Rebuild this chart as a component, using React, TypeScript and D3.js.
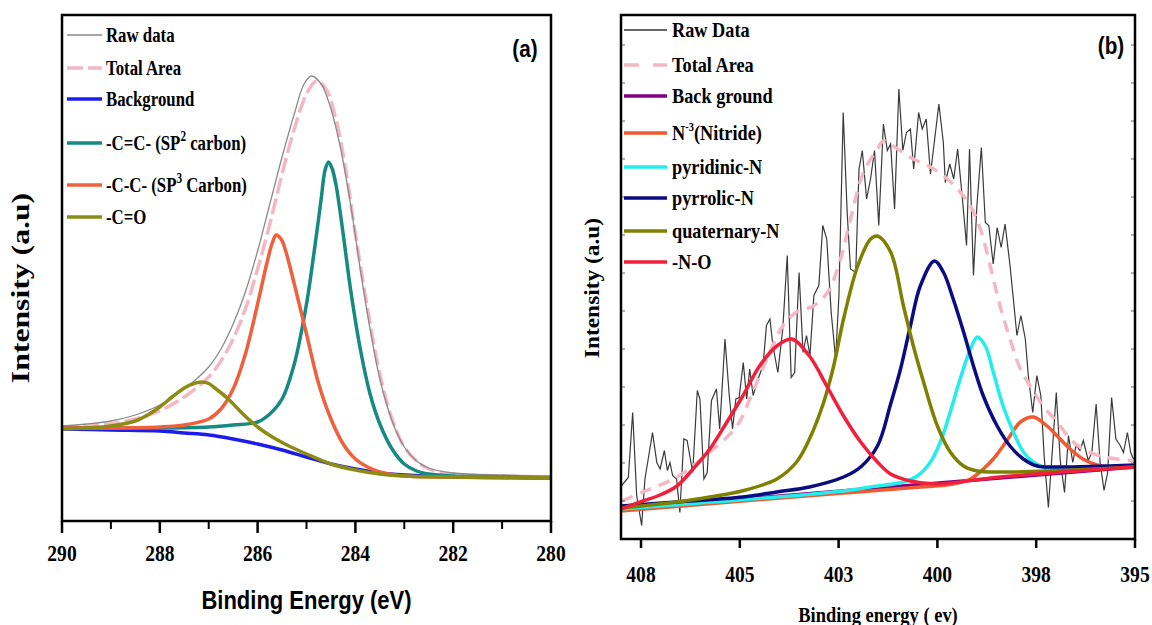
import React from 'react';
import * as d3 from 'd3';

type Pt = [number, number];

// ---------- panel (a): C 1s ----------
const A_TICKS = [290, 288, 286, 284, 282, 280];
const A_MINOR = [289, 287, 285, 283, 281];

const A_RAW: Pt[] = [[290,19.0],[289.5,19.4],[289,20.0],[288.5,21.2],[288,23.2],[287.5,26.4],[287,30.8],[286.75,34.4],[286.5,39.4],[286.25,45.8],[286,54.0],[285.75,63.4],[285.5,72.8],[285.25,81.4],[285.05,87.4],[284.9,89.0],[284.7,87.4],[284.5,82.4],[284.3,74.4],[284.1,63.4],[283.9,50.4],[283.7,38.4],[283.5,28.4],[283.25,20.0],[283,14.8],[282.75,12.0],[282.5,10.6],[282,9.6],[281,9.2],[280,9.0]];
const A_TOTAL: Pt[] = [[290,18.8],[289.5,19.0],[289,19.4],[288.5,20.4],[288,22.0],[287.5,24.8],[287,28.8],[286.75,32.0],[286.5,36.4],[286.25,42.4],[286,50.4],[285.75,59.4],[285.5,69.4],[285.25,78.4],[285,85.4],[284.8,88.0],[284.6,86.4],[284.4,80.4],[284.2,70.4],[284,57.4],[283.75,42.4],[283.5,29.4],[283.25,20.4],[283,14.8],[282.75,12.0],[282.5,10.4],[282,9.4],[281,9.0],[280,8.8]];
const A_BG: Pt[] = [[290,18.4],[289,18.2],[288,18.0],[287.5,17.6],[287,17.2],[286.5,16.4],[286,15.4],[285.5,14.2],[285,12.8],[284.5,11.4],[284,10.4],[283.5,9.6],[283,9.2],[282,8.8],[281,8.7],[280,8.6]];
const A_SP2: Pt[] = [[290,18.6],[289,18.6],[288,18.6],[287,18.8],[286.5,19.2],[286,19.8],[285.75,21.4],[285.5,24.4],[285.25,31.4],[285,43.4],[284.85,53.4],[284.7,64.4],[284.62,70.2],[284.55,71.8],[284.48,70.6],[284.4,67.4],[284.25,57.4],[284.1,46.4],[283.9,34.4],[283.7,25.4],[283.5,19.4],[283.25,14.4],[283,11.4],[282.75,10.0],[282.5,9.4],[282,9.0],[281,8.8],[280,8.6]];
const A_SP3: Pt[] = [[290,18.6],[289,18.6],[288,18.8],[287.5,19.2],[287,20.4],[286.75,22.4],[286.5,26.4],[286.25,33.4],[286,43.4],[285.8,52.0],[285.7,55.6],[285.62,57.2],[285.52,56.4],[285.45,54.8],[285.25,47.4],[285,37.4],[284.75,27.4],[284.5,20.4],[284.25,15.4],[284,12.4],[283.75,10.8],[283.5,9.8],[283,9.0],[282,8.8],[280,8.6]];
const A_CO: Pt[] = [[290,18.4],[289.5,18.6],[289,19.0],[288.5,20.0],[288.25,21.2],[288,22.8],[287.75,24.8],[287.5,26.6],[287.3,27.5],[287.15,27.8],[287.0,27.5],[286.9,26.8],[286.6,24.4],[286.3,21.4],[286,18.8],[285.7,16.8],[285.4,15.2],[285,13.4],[284.5,11.4],[284,10.2],[283.5,9.4],[283,9.0],[282,8.8],[280,8.6]];

// ---------- panel (b): N 1s ----------
const B_TICKS = [408, 405, 403, 400, 398, 395];

const B_RAW: Pt[] = [[408.58,10.7],[408.38,12.3],[408.25,25.3],[408.13,8.7],[407.98,2.7],[407.88,12.0],[407.65,21.3],[407.52,15.3],[407.42,14.0],[407.29,17.7],[407.20,13.7],[407.12,15.3],[407.04,12.7],[406.92,12.0],[406.82,5.3],[406.70,20.0],[406.60,19.7],[406.43,13.3],[406.29,29.7],[406.21,28.0],[406.09,12.0],[405.99,13.3],[405.86,27.7],[405.71,30.0],[405.61,22.0],[405.45,40.0],[405.32,28.7],[405.22,22.0],[405.12,28.0],[405.02,28.3],[404.93,35.3],[404.86,28.0],[404.80,34.0],[404.73,28.7],[404.63,32.0],[404.53,34.7],[404.46,42.7],[404.39,44.0],[404.33,38.7],[404.23,33.3],[404.13,42.0],[404.04,56.7],[403.96,32.3],[403.89,33.3],[403.80,53.3],[403.72,37.3],[403.65,40.7],[403.58,36.7],[403.50,48.7],[403.40,50.7],[403.32,62.7],[403.24,60.0],[403.15,45.3],[403.06,36.0],[402.99,48.7],[402.86,85.3],[402.74,65.3],[402.64,54.0],[402.48,53.3],[402.38,74.0],[402.28,77.7],[402.15,68.0],[402.03,72.0],[401.91,77.7],[401.78,62.7],[401.64,83.0],[401.52,77.7],[401.42,79.0],[401.30,66.0],[401.17,90.0],[401.05,77.7],[400.94,81.3],[400.82,82.0],[400.72,74.0],[400.57,85.3],[400.46,82.0],[400.34,84.0],[400.21,73.0],[399.97,87.0],[399.88,79.3],[399.84,71.3],[399.75,75.0],[399.67,72.0],[399.59,78.0],[399.50,68.7],[399.41,58.7],[399.35,78.0],[399.27,52.7],[399.20,66.7],[399.11,78.3],[399.03,63.3],[398.96,62.7],[398.87,55.0],[398.79,62.3],[398.71,58.3],[398.63,63.0],[398.53,54.7],[398.39,40.7],[398.31,44.7],[398.22,40.0],[398.16,32.7],[398.07,25.3],[397.98,32.7],[397.86,28.7],[397.76,16.7],[397.63,6.3],[397.52,16.7],[397.39,29.3],[397.27,15.7],[397.14,9.3],[397.02,20.7],[396.89,15.3],[396.79,18.7],[396.67,17.7],[396.57,19.7],[396.42,15.7],[396.31,17.3],[396.18,27.0],[396.06,15.3],[395.94,9.7],[395.83,13.3],[395.71,28.3],[395.58,20.0],[395.45,18.7],[395.35,17.3],[395.23,21.3],[395.13,17.3],[395.0,15.3]];
const B_TOTAL: Pt[] = [[408.58,7.6],[407.94,9.4],[406.91,12.4],[405.91,17.4],[405.09,22.6],[404.74,29.4],[404.39,37.4],[404.13,42.6],[403.85,45.4],[403.51,46.6],[403.22,49.4],[402.94,56.0],[402.64,64.0],[402.24,73.4],[401.82,78.0],[401.64,79.6],[401.21,78.0],[400.73,76.0],[400.21,74.4],[399.80,72.0],[399.54,69.4],[399.33,66.6],[399.13,62.0],[398.93,54.6],[398.73,46.6],[398.53,40.0],[398.32,34.0],[398.12,30.6],[397.79,26.6],[397.36,23.4],[396.97,20.0],[396.58,18.0],[396.06,16.6],[395.55,16.0],[395.0,15.6]];
const B_BG: Pt[] = [[408.6,6.0],[395.0,14.4]];
const B_NITRIDE: Pt[] = [[408.61,5.6],[404.94,7.6],[402.85,9.2],[400.52,10.4],[399.68,11.0],[399.33,12.0],[399.07,14.0],[398.87,16.0],[398.67,18.6],[398.53,20.6],[398.32,23.4],[398.06,24.4],[397.67,22.6],[397.36,20.6],[396.97,18.0],[396.58,16.0],[396.15,14.8],[395.76,14.4],[395.0,14.4]];
const B_PYRIDINIC: Pt[] = [[408.61,6.0],[402.85,9.6],[402.03,10.4],[401.03,11.4],[400.61,12.6],[400.21,15.4],[399.94,19.4],[399.74,25.4],[399.54,32.0],[399.33,38.0],[399.19,40.4],[399.03,38.6],[398.87,33.4],[398.67,26.6],[398.46,21.4],[398.26,17.4],[398.06,15.4],[397.79,14.4],[396.97,14.2],[395.0,14.4]];
const B_PYRROLIC: Pt[] = [[408.58,6.6],[406.91,7.4],[404.94,8.4],[404.25,9.4],[403.59,10.4],[402.85,12.4],[402.33,14.4],[401.82,18.6],[401.42,27.0],[401.12,34.0],[400.82,42.6],[400.52,50.6],[400.09,55.6],[399.88,53.4],[399.68,48.0],[399.47,41.4],[399.27,34.6],[399.07,28.6],[398.79,22.6],[398.53,18.6],[398.26,16.0],[397.97,14.6],[397.36,14.4],[395.0,14.8]];
const B_QUATERNARY: Pt[] = [[408.61,6.2],[406.91,7.4],[405.91,8.4],[404.96,9.6],[404.25,12.0],[403.85,15.4],[403.59,20.0],[403.30,27.4],[403.10,34.6],[402.85,44.0],[402.42,54.6],[402.03,60.0],[401.82,60.6],[401.42,57.4],[401.03,46.6],[400.73,38.6],[400.42,31.4],[400.0,22.6],[399.74,17.4],[399.47,14.6],[399.19,13.6],[398.67,13.4],[397.58,13.6],[395.0,14.4]];
const B_NO: Pt[] = [[408.61,6.0],[407.94,7.6],[407.42,8.8],[406.91,10.6],[406.42,14.0],[405.91,18.0],[405.39,23.4],[404.94,28.6],[404.60,34.6],[404.25,38.6],[403.95,40.0],[403.59,36.6],[403.24,30.6],[402.85,24.6],[402.33,19.4],[401.82,15.4],[401.42,13.0],[400.82,11.6],[400.06,11.0],[398.73,12.4],[395.0,14.4]];

// ---------- layout ----------
const W = 1152;
const H = 625;
const A = { left: 62, right: 551, top: 15, bottom: 521 };
const B = { left: 621, first: 641, right: 1135, top: 15, bottom: 539 };
const SERIF = '"Liberation Serif", "Times New Roman", serif';
const SANS = '"Liberation Sans", Arial, sans-serif';

function Txt({ x, y, sx = 1, sy = 1, rotate = 0, ...rest }: any) {
  return <text transform={`translate(${x},${y}) rotate(${rotate}) scale(${sx},${sy})`} {...rest} />;
}

export default function App() {
  const xA = d3.scaleLinear().domain([290, 280]).range([A.left, A.right]);
  const yA = d3.scaleLinear().domain([0, 101.2]).range([A.bottom, A.top]);
  const stepB = (B.right - B.first) / (B_TICKS.length - 1);
  const xB = d3.scaleLinear()
    .domain([408.6, ...B_TICKS])
    .range([B.left, ...B_TICKS.map((_, i) => B.first + i * stepB)]);
  const yB = d3.scaleLinear().domain([0, 104.8]).range([B.bottom, B.top]);

  const smoothA = d3.line<Pt>().x(d => xA(d[0])).y(d => yA(d[1])).curve(d3.curveCatmullRom.alpha(0.5));
  const smoothB = d3.line<Pt>().x(d => xB(d[0])).y(d => yB(d[1])).curve(d3.curveCatmullRom.alpha(0.5));
  const rawB = d3.line<Pt>().x(d => xB(d[0])).y(d => yB(d[1]));

  const legA = [
    { y: 35, color: '#8a8a8a', w: 1.3, dash: null, label: <>Raw data</> },
    { y: 68, color: '#f4b8c4', w: 3.5, dash: '16 5', label: <>Total Area</> },
    { y: 99, color: '#1c1ced', w: 3.5, dash: null, label: <> Background</> },
    { y: 143, color: '#158a82', w: 3.5, dash: null, label: <>-C=C- (SP<tspan dy={-9} fontSize={14}>2</tspan><tspan dy={9}> carbon)</tspan></> },
    { y: 185, color: '#f0603c', w: 3.5, dash: null, label: <>-C-C- (SP<tspan dy={-9} fontSize={14}>3</tspan><tspan dy={9}> Carbon)</tspan></> },
    { y: 217, color: '#8c8c14', w: 3.5, dash: null, label: <>-C=O</> },
  ];
  const legB = [
    { y: 30, color: '#333', w: 1.3, dash: null, label: <>Raw Data</> },
    { y: 65, color: '#f4b8c4', w: 3.5, dash: '15 14', label: <>Total Area</> },
    { y: 96, color: '#800080', w: 3.5, dash: null, label: <>Back ground</> },
    { y: 133, color: '#f05a32', w: 3.5, dash: null, label: <>N<tspan dy={-9} fontSize={12}>-3</tspan><tspan dy={9}>(Nitride)</tspan></> },
    { y: 167, color: '#22eeee', w: 3.5, dash: null, label: <>pyridinic-N</> },
    { y: 198, color: '#0c0c82', w: 3.5, dash: null, label: <>pyrrolic-N</> },
    { y: 231, color: '#808000', w: 3.5, dash: null, label: <>quaternary-N</> },
    { y: 262, color: '#f0203c', w: 3.5, dash: null, label: <>-N-O</> },
  ];
  const yTicksB = d3.range(7.6, 104, 7.6);

  return (
    <svg width={W} height={H} style={{ position: 'absolute', left: 0, top: 0, background: '#fff' }}>
      <defs>
        <clipPath id="clipA"><rect x={A.left} y={A.top} width={A.right - A.left} height={A.bottom - A.top} /></clipPath>
        <clipPath id="clipB"><rect x={B.left} y={B.top} width={B.right - B.left} height={B.bottom - B.top} /></clipPath>
      </defs>
      <rect width={W} height={H} fill="#fff" />

      {/* ---------- panel (a) ---------- */}
      <g clipPath="url(#clipA)" fill="none">
        <path d={smoothA(A_TOTAL)!} stroke="#f4b8c4" strokeWidth={3.5} strokeDasharray="16 5" />
        <path d={smoothA(A_RAW)!} stroke="#8a8a8a" strokeWidth={1.3} />
        <path d={smoothA(A_BG)!} stroke="#1c1ced" strokeWidth={3.5} />
        <path d={smoothA(A_SP2)!} stroke="#158a82" strokeWidth={3.5} />
        <path d={smoothA(A_SP3)!} stroke="#f0603c" strokeWidth={3.5} />
        <path d={smoothA(A_CO)!} stroke="#8c8c14" strokeWidth={3.5} />
      </g>
      <rect x={A.left} y={A.top} width={A.right - A.left} height={A.bottom - A.top} fill="none" stroke="#000" strokeWidth={2.5} />
      {A_TICKS.map(t => (
        <g key={t}>
          <line x1={xA(t)} x2={xA(t)} y1={A.bottom} y2={A.bottom + 12} stroke="#000" strokeWidth={2.5} />
          <Txt x={xA(t)} y={A.bottom + 40} sx={0.85} textAnchor="middle" fontFamily={SERIF} fontWeight="bold" fontSize={23}>{t}</Txt>
        </g>
      ))}
      {A_MINOR.map(t => (
        <line key={t} x1={xA(t)} x2={xA(t)} y1={A.bottom} y2={A.bottom + 8} stroke="#000" strokeWidth={2} />
      ))}
      <Txt x={(A.left + A.right) / 2} y={609} sx={0.88} textAnchor="middle" fontFamily={SANS} fontWeight="bold" fontSize={25}>Binding Energy (eV)</Txt>
      <Txt x={29} y={288} rotate={-90} sx={1.22} textAnchor="middle" fontFamily={SERIF} fontWeight="bold" fontSize={26}>Intensity (a.u)</Txt>
      <Txt x={525} y={57} sx={0.9} textAnchor="middle" fontFamily={SANS} fontWeight="bold" fontSize={23}>(a)</Txt>
      {legA.map((d, i) => (
        <g key={i}>
          <line x1={67} x2={102} y1={d.y} y2={d.y} stroke={d.color} strokeWidth={d.w} strokeDasharray={d.dash ?? undefined} />
          <Txt x={106} y={d.y + 7} sx={0.8} fontFamily={SERIF} fontWeight="bold" fontSize={21}>{d.label}</Txt>
        </g>
      ))}

      {/* ---------- panel (b) ---------- */}
      <g clipPath="url(#clipB)" fill="none">
        <path d={rawB(B_RAW)!} stroke="#3a3a3a" strokeWidth={1.2} />
        <path d={smoothB(B_TOTAL)!} stroke="#f4b8c4" strokeWidth={3.5} strokeDasharray="12 8" />
        <path d={rawB(B_BG)!} stroke="#800080" strokeWidth={3.5} />
        <path d={smoothB(B_NITRIDE)!} stroke="#f05a32" strokeWidth={3.5} />
        <path d={smoothB(B_PYRIDINIC)!} stroke="#22eeee" strokeWidth={3.5} />
        <path d={smoothB(B_PYRROLIC)!} stroke="#0c0c82" strokeWidth={3.5} />
        <path d={smoothB(B_QUATERNARY)!} stroke="#808000" strokeWidth={3.5} />
        <path d={smoothB(B_NO)!} stroke="#f0203c" strokeWidth={3.5} />
      </g>
      {yTicksB.map(t => (
        <g key={t} stroke="#666" strokeWidth={1}>
          <line x1={B.left} x2={B.left + 4} y1={yB(t)} y2={yB(t)} />
          <line x1={B.right - 4} x2={B.right} y1={yB(t)} y2={yB(t)} />
        </g>
      ))}
      <rect x={B.left} y={B.top} width={B.right - B.left} height={B.bottom - B.top} fill="none" stroke="#000" strokeWidth={2.5} />
      {B_TICKS.map(t => (
        <g key={t}>
          <line x1={xB(t)} x2={xB(t)} y1={B.bottom} y2={B.bottom + 9} stroke="#000" strokeWidth={2.5} />
          <Txt x={xB(t)} y={582} sx={0.85} textAnchor="middle" fontFamily={SERIF} fontWeight="bold" fontSize={23}>{t}</Txt>
        </g>
      ))}
      <Txt x={(B.left + B.right) / 2 + 0} y={622} sx={0.88} textAnchor="middle" fontFamily={SERIF} fontWeight="bold" fontSize={21}>Binding energy ( ev)</Txt>
      <Txt x={599} y={288} rotate={-90} sx={1.17} textAnchor="middle" fontFamily={SERIF} fontWeight="bold" fontSize={20}>Intensity (a.u)</Txt>
      <Txt x={1111} y={54} sx={0.9} textAnchor="middle" fontFamily={SANS} fontWeight="bold" fontSize={23}>(b)</Txt>
      {legB.map((d, i) => (
        <g key={i}>
          <line x1={624} x2={667} y1={d.y} y2={d.y} stroke={d.color} strokeWidth={d.w} strokeDasharray={d.dash ?? undefined} />
          <Txt x={672} y={d.y + 7} sx={0.87} fontFamily={SERIF} fontWeight="bold" fontSize={21}>{d.label}</Txt>
        </g>
      ))}
    </svg>
  );
}
